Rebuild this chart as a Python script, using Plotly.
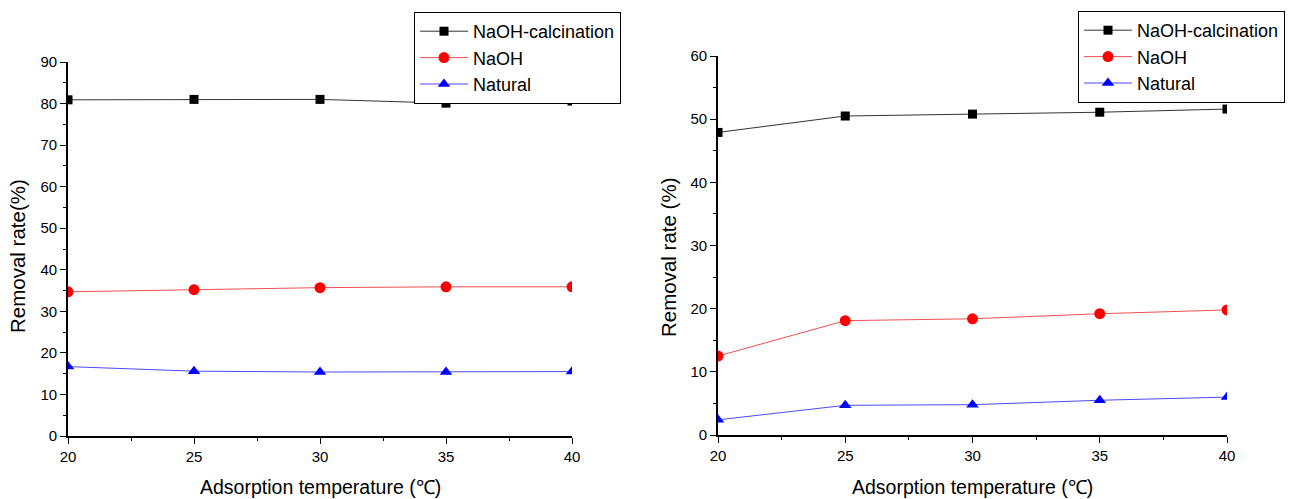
import plotly.graph_objects as go

temps = [20, 25, 30, 35, 40]
series_names = ["NaOH-calcination", "NaOH", "Natural"]

left_calcination = [80.9, 81.0, 81.0, 80.1, 80.6]
left_naoh = [34.7, 35.2, 35.7, 35.9, 35.9]
left_natural = [16.7, 15.6, 15.4, 15.4, 15.5]

right_calcination = [47.9, 50.5, 50.8, 51.1, 51.6]
right_naoh = [12.5, 18.1, 18.4, 19.2, 19.8]
right_natural = [2.4, 4.7, 4.8, 5.5, 6.0]

colors = ["#000000", "#ff0000", "#0000ff"]
line_colors = ["#333333", "#f05050", "#4a4aff"]
symbols = ["square", "circle", "triangle-up"]
sizes = [9, 11, 11]

FONT = "Liberation Sans, Arial, sans-serif"
SERIF = "Liberation Serif, Times New Roman, serif"

fig = go.Figure()

for i, (name, vals) in enumerate(zip(series_names, [left_calcination, left_naoh, left_natural])):
    fig.add_trace(go.Scatter(
        x=temps, y=vals, name=name, mode="lines+markers",
        line=dict(color=line_colors[i], width=1),
        marker=dict(symbol=symbols[i], size=sizes[i], color=colors[i]),
        xaxis="x", yaxis="y", legend="legend",
    ))

for i, (name, vals) in enumerate(zip(series_names, [right_calcination, right_naoh, right_natural])):
    fig.add_trace(go.Scatter(
        x=temps, y=vals, name=name, mode="lines+markers",
        line=dict(color=line_colors[i], width=1),
        marker=dict(symbol=symbols[i], size=sizes[i], color=colors[i]),
        xaxis="x2", yaxis="y2", legend="legend2",
    ))

W, H = 1299, 499

def xdom(a, b):
    return [a / W, b / W]

def ydom(top, bottom):
    return [(H - bottom) / H, (H - top) / H]

xtitle = "Adsorption temperature (<span style='font-family:" + SERIF + "'>\u2103</span>)"

axis_common = dict(
    showline=True, linecolor="black", linewidth=1.6, mirror=False,
    ticks="outside", ticklen=6, tickwidth=1.2, tickcolor="black",
    showgrid=False, zeroline=False, automargin=False,
    tickfont=dict(family=FONT, size=15, color="black"),
)

xaxis_common = dict(axis_common, range=[20, 40], tickmode="linear", tick0=20, dtick=5,
                    minor=dict(ticks="outside", ticklen=3, dtick=2.5, tickcolor="black", tickwidth=1.2))
yminor = dict(ticks="outside", ticklen=3, dtick=5, tickcolor="black", tickwidth=1.2)

legend_common = dict(xanchor="left", yanchor="top", bordercolor="black", borderwidth=1,
                     bgcolor="white", itemwidth=48, tracegroupgap=0,
                     entrywidth=155, entrywidthmode="pixels",
                     font=dict(family=FONT, size=18, color="black"))

fig.update_layout(
    width=W, height=H,
    margin=dict(l=0, r=0, t=0, b=0),
    paper_bgcolor="white", plot_bgcolor="white",
    font=dict(family=FONT, color="black"),
    xaxis=dict(xaxis_common, domain=xdom(68, 572), anchor="y"),
    yaxis=dict(axis_common, domain=ydom(62, 436), anchor="x", range=[0, 90],
               tickmode="linear", tick0=0, dtick=10, minor=yminor),
    xaxis2=dict(xaxis_common, domain=xdom(718, 1227), anchor="y2"),
    yaxis2=dict(axis_common, domain=ydom(56, 435), anchor="x2", range=[0, 60],
                tickmode="linear", tick0=0, dtick=10, minor=yminor),
    legend=dict(legend_common, x=414 / W, y=1 - 12 / H),
    legend2=dict(legend_common, x=1078 / W, y=1 - 11 / H),
)

xt_font = dict(family=FONT, size=19.5, color="black")
yt_font = dict(family=FONT, size=20.5, color="black")
annos = [
    dict(text=xtitle, x=320 / W, y=1 - 487 / H, xref="paper", yref="paper",
         xanchor="center", yanchor="middle", showarrow=False, font=xt_font),
    dict(text=xtitle, x=972 / W, y=1 - 487 / H, xref="paper", yref="paper",
         xanchor="center", yanchor="middle", showarrow=False, font=xt_font),
    dict(text="Removal rate(%)", x=18 / W, y=1 - 256 / H, xref="paper", yref="paper",
         xanchor="center", yanchor="middle", showarrow=False, textangle=-90, font=yt_font),
    dict(text="Removal rate (%)", x=668 / W, y=1 - 257 / H, xref="paper", yref="paper",
         xanchor="center", yanchor="middle", showarrow=False, textangle=-90, font=yt_font),
]
fig.update_layout(annotations=annos)

fig.write_html("out.html",
               config={"displayModeBar": False},
               post_script="document.body.style.margin='0';document.body.style.padding='0';")
